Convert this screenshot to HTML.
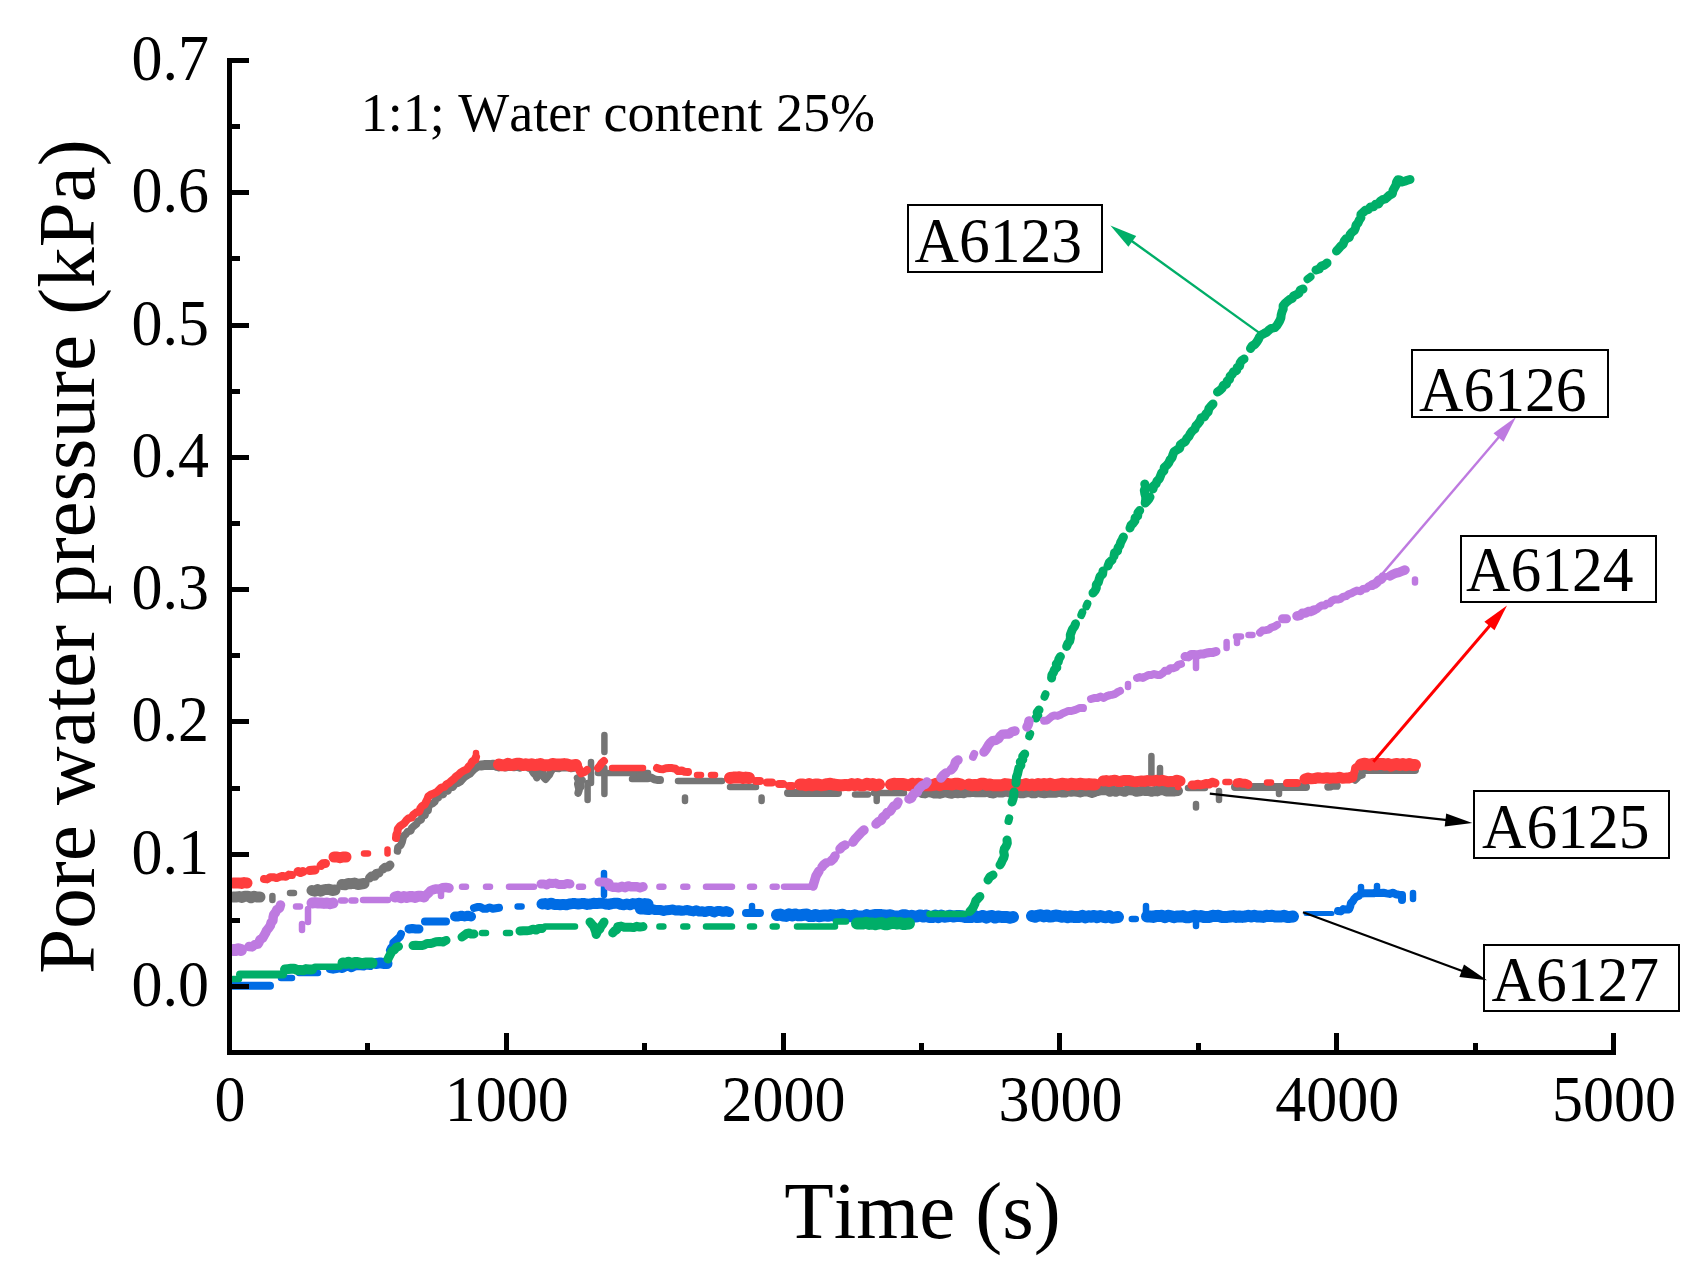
<!DOCTYPE html>
<html lang="en"><head><meta charset="utf-8"><title>Pore water pressure vs time</title>
<style>html,body{margin:0;padding:0;background:#fff;}body{width:1708px;height:1281px;overflow:hidden;}svg{display:block;}text{font-family:"Liberation Serif", serif;fill:#000;font-kerning:none;}</style></head><body>
<svg width="1708" height="1281" viewBox="0 0 1708 1281">
<rect x="0" y="0" width="1708" height="1281" fill="#fff"/>
<g fill="none" stroke="#757575" stroke-linecap="round" stroke-linejoin="round">
<path stroke-width="6.5" d="M272.4 896.0L272.4 900.0M290.0 893.0h4M587.6 783.0L587.6 800.0M591.0 762.0L591.0 783.0M604.4 735.0L604.4 752.0M604.4 768.0L604.4 794.0M598.0 773.0L648.0 773.0M632.0 779.0L648.0 779.0M678.0 781.0L722.0 781.0M685.0 797.5L685.0 801.0M761.6 797.5L761.6 801.0M730.0 787.0L756.0 787.0M855.0 794.4L868.0 794.4M874.0 793.0L904.0 793.0M876.7 793.0L876.7 801.0M1151.4 756.0L1151.4 776.0M1160.0 768.0L1160.0 776.0M1188.0 788.0L1205.0 788.0M1196.0 804.0L1196.0 807.5M1219.0 791.0L1219.0 800.0M1279.0 787.0L1279.0 794.0"/>
<path stroke-width="7.5" d="M397.5 851.0L397.9 847.5L400.8 845.1L402.1 842.0L402.9 838.7L403.8 835.8L406.0 834.0L407.6 831.6L410.8 830.8L411.8 827.8L414.0 826.0L416.5 824.1L418.0 821.2L421.2 819.9L422.1 816.4L425.0 815.2L425.8 812.3L428.1 810.5L428.5 807.4L429.7 804.8L432.7 803.5L434.7 801.9L436.0 799.0L438.5 797.5L440.1 795.0L443.4 794.5L444.4 791.3L448.0 790.9L449.5 787.6L453.0 787.2L454.7 784.3L457.8 783.2L460.5 781.7L462.7 779.3L464.8 777.0L467.5 775.3L470.2 773.7L472.3 771.3L474.3 769.3L476.7 767.7L479.0 766.0M532.0 768.0L532.2 770.8L533.6 773.2L535.8 775.2L536.8 777.7L537.3 775.3L539.1 772.9L539.2 769.6L542.2 771.8L543.0 774.5L543.8 777.2L545.6 779.2L547.5 776.8L549.4 774.7L550.5 772.2L552.0 770.0M577.5 778.0L578.7 780.9L577.7 784.0L578.4 787.0L579.1 790.0L578.1 793.1L578.9 789.5L580.9 786.6L580.4 783.0L582.0 780.0M1328.0 787.0L1331.0 786.7L1333.9 785.4L1337.0 786.0M1355.0 780.0L1357.1 778.0L1359.1 775.9L1362.0 775.0"/>
<path stroke-width="8" d="M640.0 776.0L642.9 776.1L645.7 777.1L648.7 777.3L651.5 777.8L654.2 779.3L657.1 779.9L660.0 780.0M788.0 793.0L838.0 793.0M1235.0 787.0L1306.0 787.0M1362.0 770.0L1415.0 770.0"/>
<path stroke-width="9" d="M369.5 878.0L371.5 876.0L374.7 876.3L376.2 873.5L379.0 873.0M383.0 869.0L385.1 867.3L388.1 867.1L390.0 865.0M496.0 766.0L499.0 766.9L502.0 766.1L505.0 767.0L508.0 766.6L511.0 766.2L514.0 766.7L517.0 766.3L520.0 767.2L523.0 765.4L526.0 765.5L529.0 767.3L532.0 766.9L535.0 766.0L538.0 766.5L541.0 766.1L544.0 767.0L547.0 767.1L550.0 765.8L553.0 765.8L556.0 767.6L559.0 767.7L562.0 766.8L565.0 766.9L568.0 766.9L571.0 767.8L574.0 767.4L577.0 767.0M922.0 793.5L925.0 793.9L928.0 792.6L930.9 793.0L933.9 793.9L936.9 793.9L939.9 794.3L942.9 793.4L945.9 792.9L948.8 793.8L951.8 794.2L954.8 793.3L957.8 793.7L960.8 793.3L963.8 793.7L966.7 792.8L969.7 792.8L972.7 792.3L975.7 792.7L978.7 792.7L981.7 792.7L984.6 792.7L987.6 792.2L990.6 793.6L993.6 794.0L996.6 792.6L999.6 793.1L1002.5 793.0L1005.5 792.1L1008.5 792.6L1011.5 793.4L1014.5 793.9L1017.4 792.9L1020.4 793.8L1023.4 793.8L1026.4 792.9L1029.4 792.4L1032.4 793.8L1035.4 793.7L1038.3 791.9L1041.3 793.3L1044.3 793.7L1047.3 793.2L1050.3 793.2L1053.2 793.2L1056.2 793.2L1059.2 791.8L1062.2 793.1L1065.2 793.1L1068.1 791.8L1071.1 792.2L1074.1 791.7L1077.1 792.2L1080.1 793.0L1083.1 792.1L1086.0 791.7L1089.0 792.5L1092.0 793.4L1095.0 792.5"/>
<path stroke-width="10" d="M481.0 765.5L484.0 765.1L487.0 765.1L490.0 765.1L493.0 764.7L496.0 765.5M1098.0 791.0L1101.0 790.2L1103.9 790.2L1106.9 790.2L1109.9 791.8L1112.8 790.6L1115.8 791.8L1118.7 790.2L1121.7 791.0L1124.7 791.8L1127.6 790.2L1130.6 790.2L1133.6 790.6L1136.5 791.8L1139.5 791.4L1142.4 790.6L1145.4 791.0L1148.4 791.0L1151.3 791.8L1154.3 791.0L1157.3 791.4L1160.2 790.2L1163.2 790.2L1166.1 791.4L1169.1 791.4L1172.1 791.4L1175.0 791.4L1178.0 791.0"/>
<path stroke-width="11" d="M233.0 897.0L236.0 897.0L239.0 896.6L242.0 897.4L245.0 896.2L248.0 896.2L251.0 897.8L254.0 896.2L257.0 897.0L260.0 897.0M312.0 890.5L314.9 891.2L317.7 889.6L320.6 891.1L323.5 889.9L326.4 889.4L329.2 889.3L332.1 890.5L335.0 890.0M342.0 884.5L345.2 884.8L348.2 883.4L351.4 883.7L354.5 883.1L357.8 884.6L360.9 884.0L364.0 883.5"/>
</g>
<g fill="none" stroke="#fe3d3d" stroke-linecap="round" stroke-linejoin="round">
<path stroke-width="6.5" d="M364.0 853.5h4M387.5 849.5L387.5 853.5M476.0 753.0L476.0 760.0M612.0 768.0L643.0 768.0M697.0 775.0h4M711.0 775.0h4M1178.0 781.0L1178.0 787.0M1225.4 782.0h4M1267.0 782.6h4"/>
<path stroke-width="8" d="M264.0 879.0L267.2 879.4L270.1 877.2L273.3 877.2L276.6 878.1L279.6 876.8L282.6 875.9L285.9 876.8L288.8 874.6L292.0 875.0M396.0 838.0L396.3 834.9L397.5 832.0L397.8 828.9L399.9 826.2L401.9 824.9L404.3 823.1L406.2 820.6L408.3 818.4L411.5 817.7L413.4 814.6L416.1 812.6L419.3 811.4L420.3 808.4L422.0 806.1L424.7 804.5L426.0 801.9L427.3 799.3L428.3 796.5L431.0 794.5L434.0 793.4L436.8 792.0L439.0 789.8L441.2 787.6L444.5 786.9L446.5 784.3L449.3 782.9L451.6 780.7L454.1 778.8L456.1 776.3L458.8 774.6L461.0 772.3L463.8 770.6L466.8 769.4L468.7 766.6L470.8 764.5L472.1 761.7L474.6 759.8L476.0 757.0M577.0 766.0L579.0 768.1L579.6 771.2L581.3 773.5L584.7 771.9L587.0 770.0M598.0 768.0L600.0 765.7L601.7 763.0L604.0 761.0M657.0 768.0L659.9 769.1L662.9 769.3L666.0 768.2L669.1 767.9L672.1 768.1L675.4 768.7L678.2 771.1L681.7 770.4L684.7 771.8L688.0 772.0M756.0 781.0L760.0 781.0M767.0 782.5L772.0 782.5M779.0 784.0L783.0 784.0M789.0 786.0L792.0 786.0M1287.0 783.0L1297.0 783.0M1352.0 777.0L1353.7 774.2L1354.7 771.0L1355.2 767.6L1358.0 766.0L1360.0 764.0"/>
<path stroke-width="9" d="M298.0 871.5L300.5 872.4L303.0 871.5M309.5 870.5L312.2 870.2L315.0 870.0M321.0 865.5L322.9 863.7L325.5 863.5M1192.0 785.0L1194.8 785.1L1197.5 784.2L1200.4 784.8L1203.1 784.4L1206.0 783.4L1209.0 784.1L1212.0 782.2L1215.0 783.0M1237.0 783.0L1239.9 782.5L1242.6 783.3L1245.4 783.2L1248.0 784.5"/>
<path stroke-width="11" d="M233.0 883.0L235.8 883.0L238.6 883.0L241.4 883.4L244.2 882.6L247.0 883.0M334.0 857.0L337.0 857.0L340.0 857.8L343.0 857.0L346.0 857.0M1103.0 781.0L1106.0 780.6L1108.9 781.4L1111.9 780.6L1114.8 780.2L1117.8 781.4L1120.8 781.4L1123.7 780.6L1126.7 780.6L1129.7 780.6L1132.6 781.4L1135.6 781.8L1138.5 781.4L1141.5 781.0L1144.5 781.4L1147.4 780.6L1150.4 781.0L1153.3 781.0L1156.3 780.2L1159.3 781.0L1162.2 780.2L1165.2 781.0L1168.2 781.8L1171.1 781.4L1174.1 781.4L1177.0 780.2L1180.0 781.0M1305.0 779.0L1308.1 778.1L1311.2 778.8L1314.4 778.6L1317.5 777.7L1320.6 778.0L1323.8 778.2L1326.9 777.7L1330.0 778.4L1333.1 777.9L1336.3 778.1L1339.4 777.2L1342.6 778.2L1345.8 778.1L1348.9 777.9L1352.0 777.0"/>
<path stroke-width="12" d="M499.0 764.5L502.0 765.3L504.9 765.3L507.9 763.8L510.8 765.0L513.8 764.6L516.8 763.8L519.7 763.8L522.7 765.1L525.7 764.3L528.6 765.1L531.6 764.3L534.5 765.1L537.5 764.8L540.5 764.0L543.4 765.2L546.4 765.2L549.3 765.2L552.3 764.0L555.3 764.5L558.2 764.5L561.2 764.5L564.2 764.1L567.1 764.5L570.1 765.8L573.0 765.4L576.0 765.0M730.0 778.0L733.2 777.6L736.3 777.6L739.5 777.2L742.7 778.0L745.8 777.6L749.0 778.0M800.0 784.5L803.0 784.5L806.1 785.3L809.1 784.1L812.2 785.3L815.2 784.5L818.2 784.5L821.3 785.3L824.3 784.9L827.3 784.1L830.4 783.7L833.4 784.5L836.5 784.9L839.5 785.3L842.5 785.3L845.6 784.9L848.6 785.3L851.7 784.1L854.7 785.3L857.7 784.1L860.8 785.3L863.8 785.3L866.8 783.7L869.9 784.9L872.9 784.1L876.0 785.3L879.0 784.5M891.0 784.5L894.0 783.7L897.1 784.1L900.1 784.1L903.2 784.1L906.2 784.9L909.3 785.3L912.3 783.7L915.3 785.3L918.4 783.7L921.4 784.5L924.5 785.3L927.5 785.3L930.6 785.3L933.6 784.9L936.7 783.7L939.7 785.3L942.7 783.7L945.8 784.1L948.8 784.1L951.9 784.5L954.9 783.7L958.0 783.7L961.0 784.5M969.0 784.5L972.0 785.3L975.0 784.9L978.0 785.3L981.0 783.7L984.0 783.7L987.0 784.9L990.0 784.5L993.0 785.3L996.0 785.3L999.0 785.3L1002.0 785.3L1005.0 784.1L1008.0 784.5L1011.0 784.9L1014.0 785.3L1017.0 785.3L1020.0 784.9L1023.0 785.3L1026.0 784.1L1029.0 785.3L1032.0 784.5L1035.0 785.3L1038.0 784.1L1041.0 784.9L1044.0 784.1L1047.0 784.9L1050.0 783.7L1053.0 784.9L1056.0 784.9L1059.0 784.5L1062.0 783.7L1065.0 784.1L1068.0 784.9L1071.0 783.7L1074.0 784.1L1077.0 784.5L1080.0 783.7L1083.0 784.1L1086.0 784.5L1089.0 784.1L1092.0 784.5L1095.0 784.5M1361.0 764.5L1364.0 763.7L1367.0 764.2L1370.0 765.0L1373.0 763.8L1376.0 764.6L1379.0 763.9L1382.0 763.9L1385.0 764.7L1388.0 764.0L1391.0 765.6L1394.0 764.4L1397.0 764.0L1400.0 764.9L1403.0 764.1L1406.0 765.3L1409.0 764.1L1412.0 765.0L1415.0 765.0"/>
</g>
<g fill="none" stroke="#006ce4" stroke-linecap="round" stroke-linejoin="round">
<path stroke-width="5" d="M1306.0 913.5L1332.0 913.5"/>
<path stroke-width="6.5" d="M281.0 978.0L292.0 978.0M299.0 973.0L318.0 973.0M517.6 906.4h4M604.0 873.0L604.0 895.0M752.0 906.0L752.0 913.0M1131.8 919.0h4M1146.0 906.0L1146.0 916.0M1196.0 917.0L1196.0 926.0M1361.0 887.0L1361.0 894.0M1377.0 886.0L1377.0 892.0M1413.0 893.0L1413.0 899.0"/>
<path stroke-width="8" d="M233.0 985.7L270.0 985.7M330.0 969.0L333.1 969.7L336.2 969.0L339.2 968.3L342.4 969.0L345.4 967.4L348.4 966.7L351.6 968.3L354.6 966.7L357.6 966.0L360.7 966.2L363.8 966.5L366.9 965.3L370.0 966.0M390.0 950.0L391.2 947.7L393.3 945.8L393.3 942.8L395.5 940.8L397.7 938.8L399.9 936.8L401.0 934.0M425.0 921.5L446.0 921.5M474.0 908.0L477.1 907.1L480.2 907.0L483.4 908.8L486.5 908.7L489.6 907.4L492.8 908.7L495.9 908.2L499.0 907.7M746.0 913.0L760.0 913.0M1338.0 911.0L1340.9 911.4L1343.3 909.1L1346.2 909.5L1349.1 909.4L1350.3 906.3L1350.9 903.3L1353.0 901.0L1354.4 898.6L1356.4 896.8L1359.0 895.8L1360.7 893.7L1364.1 893.2L1367.4 893.2L1370.7 893.2L1373.9 893.3L1377.0 892.0M1377.0 893.0L1380.1 893.1L1383.3 892.8L1386.4 893.4L1389.5 893.9L1392.7 892.7L1395.7 894.2L1398.8 894.8L1402.0 894.9L1402.0 900.0"/>
<path stroke-width="9" d="M409.0 929.0L412.3 928.5L415.7 929.0L419.0 929.0"/>
<path stroke-width="10" d="M455.0 916.5L458.2 916.5L461.4 915.7L464.6 916.5L467.8 915.7L471.0 916.5M640.0 909.5L643.0 909.2L645.9 909.7L648.9 910.1L651.9 909.0L654.8 909.9L657.8 910.0L660.8 910.1L663.7 911.0L666.7 910.2L669.7 909.9L672.7 909.6L675.6 910.5L678.6 910.2L681.5 910.7L684.5 910.4L687.5 910.0L690.4 910.9L693.4 911.4L696.4 910.3L699.3 911.6L702.3 911.2L705.2 912.1L708.2 911.0L711.2 911.1L714.1 912.4L717.2 910.9L720.1 911.0L723.1 911.8L726.1 911.1L729.0 912.0"/>
<path stroke-width="11" d="M376.0 963.5L378.8 963.1L381.5 963.1L384.2 963.5L387.0 963.5M542.0 904.0L545.0 903.6L548.1 904.4L551.1 903.2L554.1 904.4L557.1 904.4L560.2 904.8L563.2 904.4L566.2 904.8L569.3 904.0L572.3 903.6L575.3 903.6L578.3 904.0L581.4 903.6L584.4 903.6L587.4 904.4L590.5 904.0L593.5 903.2L596.5 903.6L599.5 903.2L602.6 903.2L605.6 904.0L608.6 904.4L611.7 903.6L614.7 903.2L617.7 903.2L620.7 904.4L623.8 904.8L626.8 904.0L629.8 904.8L632.9 903.6L635.9 904.0L638.9 903.2L641.9 904.4L645.0 903.6L648.0 904.0"/>
<path stroke-width="12" d="M777.0 915.0L780.0 914.6L783.0 915.5L786.0 915.9L789.0 914.3L791.9 915.5L794.9 914.4L797.9 915.2L800.9 915.2L803.9 914.8L806.9 914.5L809.9 916.1L812.8 916.1L815.8 914.9L818.8 916.2L821.8 915.8L824.8 915.4L827.8 915.8L830.8 915.1L833.8 915.5L836.7 916.3L839.7 915.1L842.7 914.8L845.7 916.4L848.7 916.0L851.7 916.4L854.7 915.3L857.7 916.5L860.6 916.5L863.6 916.5L866.6 915.0L869.6 916.6L872.6 915.4L875.6 915.0L878.6 915.1L881.6 915.1L884.5 915.5L887.5 915.9L890.5 915.2L893.5 916.4L896.5 916.4L899.5 916.8L902.5 915.3L905.5 915.3L908.4 916.9L911.4 915.7L914.4 916.6L917.4 916.2L920.4 915.4L923.4 916.6L926.4 915.5L929.3 917.1L932.3 917.1L935.3 915.5L938.3 917.2L941.3 915.6L944.3 916.8L947.3 916.4L950.3 915.7L953.3 916.5L956.2 916.1L959.2 916.1L962.2 916.2L965.2 917.0L968.2 917.0L971.2 917.0L974.2 915.9L977.1 917.1L980.1 916.7L983.1 915.9L986.1 917.6L989.1 916.4L992.1 916.0L995.1 917.6L998.1 916.5L1001.1 916.9L1004.0 916.9L1007.0 916.9L1010.0 917.8L1013.0 917.0M1032.0 916.0L1035.0 916.8L1037.9 915.7L1040.9 915.3L1043.9 916.5L1046.8 915.4L1049.8 916.6L1052.8 916.2L1055.7 915.5L1058.7 915.9L1061.7 916.7L1064.6 916.4L1067.6 917.2L1070.6 916.4L1073.5 916.9L1076.5 916.9L1079.4 917.0L1082.4 915.8L1085.4 917.4L1088.3 916.3L1091.3 916.7L1094.3 915.9L1097.2 917.2L1100.2 916.0L1103.2 916.8L1106.1 917.3L1109.1 916.1L1112.1 917.7L1115.0 917.4L1118.0 917.0M1147.0 916.5L1150.0 916.5L1153.0 916.9L1155.9 916.1L1158.9 916.1L1161.9 915.7L1164.9 917.3L1167.9 915.7L1170.8 916.1L1173.8 917.3L1176.8 916.5L1179.8 916.5L1182.8 916.1L1185.7 917.3L1188.7 917.3L1191.7 916.5L1194.7 915.7L1197.7 916.5L1200.6 916.1L1203.6 916.9L1206.6 916.9L1209.6 916.9L1212.6 915.7L1215.5 916.1L1218.5 915.7L1221.5 916.9L1224.5 916.9L1227.4 916.9L1230.4 916.5L1233.4 916.1L1236.4 916.9L1239.4 916.5L1242.3 916.9L1245.3 916.5L1248.3 915.7L1251.3 916.5L1254.3 915.7L1257.2 916.5L1260.2 916.5L1263.2 916.9L1266.2 915.7L1269.2 916.1L1272.1 915.7L1275.1 916.5L1278.1 916.5L1281.1 916.5L1284.1 915.7L1287.0 916.9L1290.0 916.9L1293.0 916.5"/>
</g>
<g fill="none" stroke="#00ae68" stroke-linecap="round" stroke-linejoin="round">
<path stroke-width="6.5" d="M233.0 979.0L239.0 979.0M315.0 966.7L340.0 966.7M482.0 933.0h4M506.0 933.0h4M545.0 926.6L575.0 926.6M659.4 926.6h4M683.3 926.6h4M706.0 926.6L732.0 926.6M750.0 926.6h4M772.7 926.6h4M797.0 926.6L835.0 926.6M836.0 921.5L846.0 921.5M929.5 914.0L964.8 914.0"/>
<path stroke-width="8" d="M240.0 974.5L283.0 974.5M1008.5 821.0L1009.2 818.3M1029.2 736.3L1030.2 733.7M1044.5 696.8L1045.5 694.2M1081.3 615.0L1082.3 612.4M1086.4 606.3L1087.4 603.7M1307.5 279.2L1310.5 276.8"/>
<path stroke-width="9" d="M388.0 959.0L389.3 956.3L390.7 953.7L392.0 951.0L394.4 949.9L396.1 947.6L398.5 946.5M413.0 945.5L415.8 945.2L418.7 945.4L421.6 945.6L424.4 944.9L427.1 943.4L430.0 943.6L433.1 942.8L436.2 941.7L439.5 941.4L443.0 942.0L446.0 940.4M462.0 937.0L464.3 935.3L466.6 933.6L468.7 932.9L471.3 934.1L474.0 934.0M520.0 931.0L523.3 930.7L526.7 930.8L530.0 930.4L532.9 929.2L536.1 930.1L538.9 928.4L542.0 928.5M590.0 922.0L591.8 924.2L593.6 926.3L594.6 929.0L595.6 931.6L596.2 934.5L597.6 931.1L599.8 929.2L600.8 926.6L602.6 924.4L604.0 922.0M612.7 933.0L614.5 931.0L616.9 929.6L617.7 926.7L621.1 926.1L624.3 927.3L627.4 927.3L630.5 927.2L633.6 927.6L636.7 926.3L639.9 927.1L643.0 926.6M969.8 911.5L971.9 909.2L973.5 906.7L974.8 904.0L975.8 900.9L977.8 898.7L979.9 896.4M988.0 880.0L989.9 876.9L993.0 875.0M1000.0 865.0L1001.4 862.7L1002.4 860.2L1003.8 857.8L1004.4 855.2L1003.7 851.8L1004.3 848.8L1006.2 846.1L1007.3 843.2L1007.0 840.0M1012.0 802.0L1013.1 798.8L1013.8 795.4L1014.0 792.0M1016.0 783.0L1016.2 779.9L1016.5 776.8L1017.6 773.9L1018.2 770.9L1018.9 767.9L1020.9 765.2L1020.3 761.9L1022.8 759.7L1022.7 756.4L1024.7 754.0M1036.0 718.0L1037.8 715.6L1037.2 712.4L1039.0 710.0M1051.6 678.0L1051.9 675.0L1053.4 672.5L1054.5 669.8L1056.8 667.6L1056.3 664.2L1058.2 661.9L1058.9 659.0L1060.4 656.5M1066.7 646.4L1067.8 643.6L1069.7 641.1L1070.4 638.1L1070.3 634.8L1071.4 631.9L1072.5 629.1L1074.4 626.6L1075.5 623.8M1093.0 593.0L1095.1 590.6L1096.3 587.9L1096.3 584.6L1098.4 582.2L1099.2 579.2L1100.1 576.3L1102.6 574.1L1103.0 571.0M1108.0 566.0L1109.3 562.5L1112.0 560.0M1114.0 556.0L1114.5 552.9L1117.5 551.0L1118.0 547.9L1119.8 545.3L1120.7 542.4L1122.1 539.7L1123.4 537.0M1130.0 528.0L1131.0 525.3L1133.2 523.2L1134.9 520.9L1135.1 517.8L1137.7 515.9L1137.9 512.8L1139.7 510.5M1144.8 484.0L1145.7 487.2L1144.3 490.3L1144.8 493.5L1145.7 496.7L1145.7 499.8L1145.2 503.0L1146.9 501.3L1148.6 499.3L1150.0 497.0M1153.0 489.0L1153.7 485.9L1156.0 483.8L1157.1 480.9L1159.4 478.7L1160.5 475.9L1161.6 473.0L1163.9 470.8L1164.2 467.6L1166.7 465.3L1168.7 462.9L1170.0 460.0L1172.0 457.6L1173.0 454.4L1174.2 451.5L1177.0 449.8L1179.7 448.3L1180.3 444.9L1182.7 443.0L1185.3 441.5L1186.7 438.7L1188.9 436.4L1190.3 433.6L1192.2 431.0L1194.8 429.0L1195.9 425.9L1198.1 423.6L1200.0 421.0L1201.1 418.0L1204.4 416.7L1205.9 414.0L1208.1 411.8L1208.9 408.6L1210.8 406.2L1213.0 404.0M1217.5 392.0L1220.0 390.3L1222.1 388.3L1223.4 385.3L1226.4 384.3L1227.1 381.2L1229.5 379.4L1230.1 376.3L1232.2 374.3L1233.6 371.7L1236.7 370.5L1237.2 367.5L1239.6 365.9L1240.1 362.9L1241.7 360.7L1244.0 359.0M1250.5 348.5L1252.1 346.0L1254.7 344.5L1256.6 342.3L1258.2 339.8L1259.4 337.1L1261.3 334.9L1264.2 333.4L1266.9 332.1L1269.0 330.0L1271.5 328.3L1274.7 327.7L1276.8 325.6L1278.5 322.8L1279.8 320.6L1280.9 317.8L1281.2 314.8L1282.0 311.8L1283.2 309.0L1283.1 305.9L1285.1 303.4L1287.2 301.5L1289.4 299.7L1292.2 298.4L1293.7 295.9L1296.5 294.7L1299.0 293.1L1300.2 290.2L1303.0 289.0M1316.0 270.0L1319.2 269.0L1321.3 266.1L1324.5 265.1L1327.0 263.0M1336.5 251.0L1338.6 248.7L1340.7 246.3L1343.1 244.3L1344.2 241.1L1346.2 238.7L1349.3 237.3L1350.1 234.4L1352.0 232.3L1354.3 230.5L1355.4 227.9L1356.1 225.1L1358.0 223.0L1359.2 220.2L1360.9 217.7L1360.9 214.4L1363.4 212.2L1365.4 210.2L1368.4 209.6L1370.4 207.0L1373.6 206.8L1375.6 204.2L1378.6 203.9L1380.2 201.2L1382.5 199.7L1385.3 199.0L1387.4 197.1L1389.5 195.2L1392.3 193.7L1393.0 190.5L1394.5 187.8L1396.0 185.0L1396.5 182.2L1397.9 179.7L1399.9 179.9L1402.0 182.0L1404.7 181.2L1407.3 180.3L1410.0 179.5"/>
<path stroke-width="10" d="M285.0 969.5L288.0 969.1L291.0 968.7L294.0 968.7L297.0 969.9L300.0 969.9L303.0 970.3L306.0 969.1L309.0 969.5L312.0 969.5"/>
<path stroke-width="11" d="M343.0 963.0L345.9 963.4L348.8 962.2L351.7 963.8L354.6 962.6L357.5 962.6L360.4 963.4L363.3 963.4L366.2 963.0L369.1 963.0L372.0 963.0"/>
<path stroke-width="12" d="M857.0 923.5L860.1 923.5L863.1 923.5L866.2 922.7L869.2 923.9L872.3 923.5L875.4 924.3L878.4 923.5L881.5 923.1L884.5 924.3L887.6 924.3L890.6 923.1L893.7 922.7L896.8 923.5L899.8 923.1L902.9 923.9L905.9 923.9L909.0 923.5"/>
</g>
<g fill="none" stroke="#be7ae0" stroke-linecap="round" stroke-linejoin="round">
<path stroke-width="6.5" d="M296.0 906.4h4M302.0 924.0L302.0 930.0M308.0 922.0L308.0 909.0M341.0 900.6h4M351.4 900.6h4M363.0 900.0L388.0 900.0M441.0 888.0L441.0 896.0M462.0 886.8h4M486.0 886.8h4M509.0 886.8L534.0 886.8M579.0 886.8h4M659.4 886.8h4M683.3 886.8h4M706.0 886.8L732.0 886.8M750.0 886.8h4M772.7 886.8h4M784.0 886.8L813.0 886.8M1128.0 687.0L1128.0 684.0M1196.0 657.0L1196.0 668.0M1226.6 648.0L1226.6 642.0M1236.0 636.4L1241.0 636.4M1237.0 637.0L1237.0 643.0M1248.5 635.0h4M1415.0 579.5L1415.0 582.5"/>
<path stroke-width="8" d="M973.0 756.8L974.2 754.0M1044.0 720.7L1047.0 720.4L1049.3 718.5L1051.7 716.5L1054.3 715.4L1057.7 715.9L1060.3 714.8L1062.9 713.2L1065.6 712.1L1068.4 710.9L1071.5 711.0L1074.4 710.2L1077.1 709.1L1079.9 707.9L1083.0 708.0M1091.0 699.0L1094.1 698.1L1097.3 698.0L1100.4 696.6L1103.8 697.9L1106.8 696.1L1109.9 695.1L1112.5 694.8L1115.2 693.9L1117.5 692.2L1120.0 691.0M1137.0 678.0L1139.8 677.1L1142.9 677.9L1145.6 676.5L1148.3 675.1L1151.3 675.1L1154.1 674.1L1157.2 674.9L1160.2 674.9L1162.8 673.2L1164.9 670.7L1168.1 670.7L1170.1 668.2L1173.3 668.2L1176.1 667.3L1178.2 664.8L1181.0 664.0M1260.0 632.6L1262.5 630.5L1265.7 630.1L1268.9 629.6L1271.3 627.5L1274.4 626.7L1277.0 625.0M1314.0 610.0L1316.8 609.2L1319.0 607.2L1321.4 605.6L1324.6 605.6L1326.8 603.6L1329.8 603.2L1331.8 600.8L1334.4 599.6L1337.6 599.6L1340.4 598.8L1342.9 596.9L1346.0 596.2L1348.6 594.3L1351.5 593.2L1354.2 591.7L1357.1 590.6L1360.7 591.2L1363.1 588.9L1366.3 588.6L1368.8 586.2L1372.0 586.0"/>
<path stroke-width="9" d="M541.0 884.0L543.9 884.0L546.8 884.9L549.7 883.1L552.6 883.5L555.5 883.1L558.4 884.5L561.3 884.5L564.2 884.5L567.1 883.5L570.0 884.0M599.0 882.0L602.4 881.9L605.7 882.2L609.0 883.0M1185.0 656.5L1188.2 656.9L1191.1 654.6L1194.2 654.6L1197.5 654.9L1200.5 654.0L1203.7 653.9L1206.7 653.0L1209.8 652.5L1213.0 652.4L1216.0 651.5M1282.5 618.8h4"/>
<path stroke-width="9.5" d="M249.0 946.5L252.1 946.9L254.9 944.6L257.9 944.1L259.0 942.4L260.0 939.7L262.6 938.0L264.0 935.6L265.4 933.2L266.6 930.5L268.6 928.2L270.3 925.7L271.1 922.8L272.9 920.5L273.1 917.6L273.7 914.8L275.5 912.5L276.8 909.8L279.6 908.0L280.5 905.0M424.0 897.0L426.3 895.0L428.7 892.9L430.7 890.6L433.2 889.7L436.3 888.9L439.5 889.4L442.6 887.8L445.7 887.4L449.0 888.0M609.0 886.0L612.9 887.2L616.0 887.2L619.0 887.7L622.0 886.3L625.0 887.7L628.0 885.9L631.0 886.8L634.0 886.8L637.0 886.8L640.0 887.7L643.0 886.8M813.0 886.0L814.0 882.7L815.0 879.3L816.0 876.0L817.5 873.5L819.0 871.0M822.0 867.0L823.7 864.7L826.0 863.0M831.0 861.0L833.4 858.8L835.0 856.0M840.0 849.0L842.2 846.6L845.0 845.0M853.0 842.0L854.9 839.3L857.1 836.9L859.3 834.5L861.5 832.1L864.0 830.0M876.0 824.0L878.4 821.8L881.4 820.3L882.9 817.1L885.6 815.2L887.4 812.3L890.3 811.1L892.0 808.6L893.7 806.1L896.7 804.8L898.0 802.0M909.0 799.0L911.6 798.0L912.7 795.3L914.4 793.3L917.3 792.3L918.4 789.4L920.4 787.4L922.4 785.4L925.3 784.3L927.0 782.0M941.0 778.0L943.2 775.2L946.0 773.0M951.0 770.0L953.1 767.8L954.5 765.0L955.5 762.0L958.0 760.0M984.0 752.0L985.8 749.8L987.3 747.3L988.7 744.8L990.5 742.6L992.7 740.7L996.0 740.3L998.5 738.8L1000.3 736.1L1002.5 734.2L1006.0 734.0L1009.3 733.9L1011.9 731.6L1015.0 731.0M1027.0 727.0L1028.4 724.1L1029.0 721.0M1297.0 616.0L1300.0 615.4L1302.4 613.2L1305.5 613.0L1308.2 611.6L1311.3 611.4L1314.0 610.0M1372.0 585.0L1374.7 584.1L1376.9 582.5L1378.6 580.2L1381.3 579.3L1383.0 577.0M1390.0 576.0L1392.8 574.4L1395.8 573.2L1399.0 572.4L1402.0 571.2L1405.0 570.0"/>
<path stroke-width="11" d="M312.0 903.0L315.0 902.6L318.0 903.0L321.0 903.0L324.0 903.4L327.0 903.0L330.0 903.8L333.0 903.0M395.0 897.0L397.9 896.2L400.8 897.8L403.7 896.6L406.6 897.4L409.5 896.6L412.4 896.6L415.3 897.4L418.2 896.2L421.1 896.2L424.0 897.0"/>
<path stroke-width="12" d="M233.0 950.0L235.7 950.0L238.3 949.2L241.0 950.0"/>
</g>
<g fill="#000" shape-rendering="crispEdges">
<rect x="227" y="58" width="5" height="997"/>
<rect x="227" y="1050" width="1389" height="5"/>
<rect x="227" y="984" width="22" height="5"/>
<rect x="227" y="918" width="13" height="5"/>
<rect x="227" y="852" width="22" height="5"/>
<rect x="227" y="786" width="13" height="5"/>
<rect x="227" y="719" width="22" height="5"/>
<rect x="227" y="653" width="13" height="5"/>
<rect x="227" y="587" width="22" height="5"/>
<rect x="227" y="521" width="13" height="5"/>
<rect x="227" y="455" width="22" height="5"/>
<rect x="227" y="389" width="13" height="5"/>
<rect x="227" y="323" width="22" height="5"/>
<rect x="227" y="256" width="13" height="5"/>
<rect x="227" y="190" width="22" height="5"/>
<rect x="227" y="124" width="13" height="5"/>
<rect x="227" y="58" width="22" height="5"/>
<rect x="227" y="1033" width="5" height="22"/>
<rect x="365" y="1043" width="5" height="12"/>
<rect x="504" y="1033" width="5" height="22"/>
<rect x="642" y="1043" width="5" height="12"/>
<rect x="781" y="1033" width="5" height="22"/>
<rect x="919" y="1043" width="5" height="12"/>
<rect x="1057" y="1033" width="5" height="22"/>
<rect x="1196" y="1043" width="5" height="12"/>
<rect x="1334" y="1033" width="5" height="22"/>
<rect x="1473" y="1043" width="5" height="12"/>
<rect x="1611" y="1033" width="5" height="22"/>
</g>
<text transform="translate(209.0 1006.0) scale(1 1.070)" font-size="62" text-anchor="end">0.0</text>
<text transform="translate(209.0 873.7) scale(1 1.070)" font-size="62" text-anchor="end">0.1</text>
<text transform="translate(209.0 741.4) scale(1 1.070)" font-size="62" text-anchor="end">0.2</text>
<text transform="translate(209.0 609.1) scale(1 1.070)" font-size="62" text-anchor="end">0.3</text>
<text transform="translate(209.0 476.9) scale(1 1.070)" font-size="62" text-anchor="end">0.4</text>
<text transform="translate(209.0 344.6) scale(1 1.070)" font-size="62" text-anchor="end">0.5</text>
<text transform="translate(209.0 212.3) scale(1 1.070)" font-size="62" text-anchor="end">0.6</text>
<text transform="translate(209.0 80.0) scale(1 1.070)" font-size="62" text-anchor="end">0.7</text>
<text transform="translate(230.0 1121.0) scale(1 1.070)" font-size="62" text-anchor="middle">0</text>
<text transform="translate(506.8 1121.0) scale(1 1.070)" font-size="62" text-anchor="middle">1000</text>
<text transform="translate(783.6 1121.0) scale(1 1.070)" font-size="62" text-anchor="middle">2000</text>
<text transform="translate(1060.4 1121.0) scale(1 1.070)" font-size="62" text-anchor="middle">3000</text>
<text transform="translate(1337.2 1121.0) scale(1 1.070)" font-size="62" text-anchor="middle">4000</text>
<text transform="translate(1614.0 1121.0) scale(1 1.070)" font-size="62" text-anchor="middle">5000</text>
<text x="922.5" y="1238" font-size="81" text-anchor="middle">Time (s)</text>
<text transform="translate(94 556.5) rotate(-90)" font-size="81" text-anchor="middle">Pore water pressure (kPa)</text>
<text x="360.7" y="131" font-size="54">1:1; Water content 25%</text>
<line x1="1260.0" y1="333.4" x2="1130.7" y2="240.2" stroke="#00ae68" stroke-width="2.4"/><polygon fill="#00ae68" points="1110.4,225.6 1136.2,236.0 1128.4,246.7"/>
<line x1="1382.7" y1="573.4" x2="1499.8" y2="436.0" stroke="#be7ae0" stroke-width="2.4"/><polygon fill="#be7ae0" points="1516.0,417.0 1503.5,441.8 1493.5,433.3"/>
<line x1="1373.4" y1="761.7" x2="1490.8" y2="624.5" stroke="#ff0000" stroke-width="3"/><polygon fill="#ff0000" points="1507.0,605.5 1494.5,630.3 1484.4,621.7"/>
<line x1="1209.8" y1="793.7" x2="1447.5" y2="820.2" stroke="#000" stroke-width="2.2"/><polygon fill="#000" points="1472.3,823.0 1444.7,826.6 1446.2,813.4"/>
<line x1="1303.0" y1="912.2" x2="1463.6" y2="971.5" stroke="#000" stroke-width="2.2"/><polygon fill="#000" points="1487.0,980.2 1459.4,977.0 1464.0,964.6"/>
<rect x="908.0" y="205.0" width="194.0" height="67.0" fill="none" stroke="#000" stroke-width="2" shape-rendering="crispEdges"/>
<text transform="translate(914.5 262.0) scale(1 1.040)" font-size="61.5" text-anchor="start">A6123</text>
<rect x="1412.0" y="350.0" width="196.0" height="67.0" fill="none" stroke="#000" stroke-width="2" shape-rendering="crispEdges"/>
<text transform="translate(1419.0 411.0) scale(1 1.040)" font-size="61.5" text-anchor="start">A6126</text>
<rect x="1461.0" y="536.0" width="195.0" height="66.0" fill="none" stroke="#000" stroke-width="2" shape-rendering="crispEdges"/>
<text transform="translate(1466.0 591.0) scale(1 1.040)" font-size="61.5" text-anchor="start">A6124</text>
<rect x="1474.0" y="791.0" width="195.0" height="66.5" fill="none" stroke="#000" stroke-width="2" shape-rendering="crispEdges"/>
<text transform="translate(1482.0 848.0) scale(1 1.040)" font-size="61.5" text-anchor="start">A6125</text>
<rect x="1484.0" y="945.0" width="195.0" height="65.5" fill="none" stroke="#000" stroke-width="2" shape-rendering="crispEdges"/>
<text transform="translate(1491.5 1001.0) scale(1 1.040)" font-size="61.5" text-anchor="start">A6127</text>
</svg></body></html>
